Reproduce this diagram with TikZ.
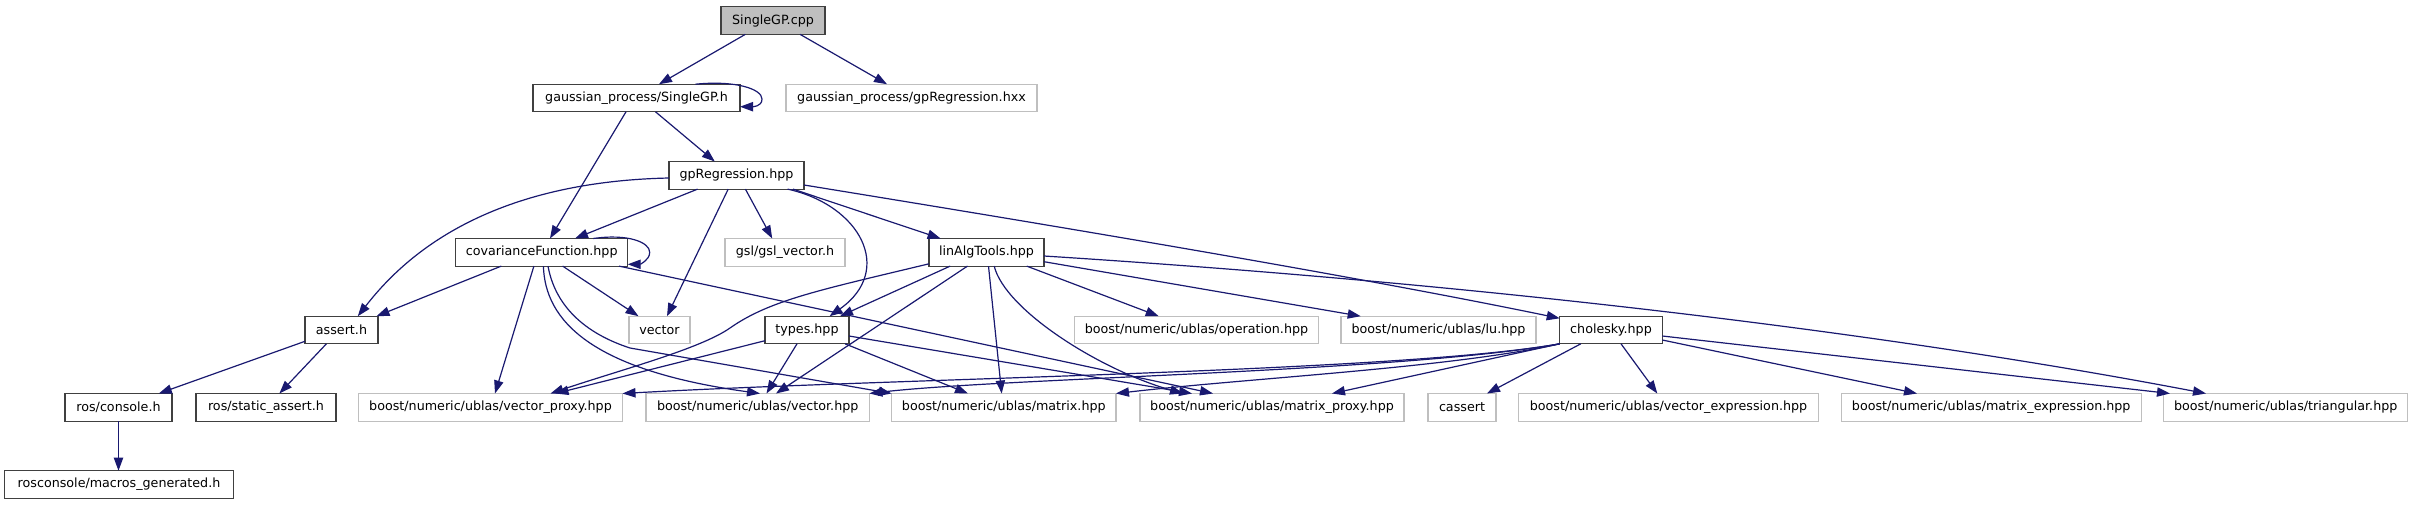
\documentclass[tikz,border=0pt]{standalone}
\usepackage{fontspec}
\setmainfont{DejaVu Sans}
\usetikzlibrary{arrows.meta}
\definecolor{edgeblue}{HTML}{191970}
\definecolor{docborder}{HTML}{404040}
\definecolor{extborder}{HTML}{BFBFBF}
\definecolor{rootfill}{HTML}{BFBFBF}
\begin{document}
\begin{tikzpicture}[x=1pt,y=-1pt,
  box/.style={rectangle, inner sep=0pt, outer sep=0pt, minimum height=27.6pt,
    font=\fontsize{12.7}{14}\selectfont, text=black},
  doc/.style={box, draw=docborder, line width=1.1pt},
  ext/.style={box, draw=extborder, line width=1.1pt},
  root/.style={doc, fill=rootfill},
  edge/.style={draw=edgeblue, line width=1.2pt,
    -{Triangle[length=13pt,width=9.3pt]}, edgeblue}]
\useasboundingbox (0,0) rectangle (2412,504);
\fill[white] (0,0) rectangle (2412,504);

% row 1
\node[root, minimum width=104pt] (cpp) at (773,20.5) {SingleGP.cpp};
% row 2
\node[doc, minimum width=207pt] (sgh) at (636.5,98) {gaussian\_process/SingleGP.h};
\node[ext, minimum width=251pt] (hxx) at (911.5,98) {gaussian\_process/gpRegression.hxx};
% row 3
\node[doc, minimum width=135pt] (gpr) at (736.5,175.3) {gpRegression.hpp};
% row 4
\node[doc, minimum width=172pt] (cov) at (541.7,252.3) {covarianceFunction.hpp};
\node[ext, minimum width=120pt] (gsl) at (785,252.3) {gsl/gsl\_vector.h};
\node[doc, minimum width=115pt] (lat) at (986.5,252.3) {linAlgTools.hpp};
% row 5
\node[doc, minimum width=73pt] (assert) at (341.5,330) {assert.h};
\node[ext, minimum width=61pt] (vector) at (659.5,330) {vector};
\node[doc, minimum width=84pt] (types) at (807,330) {types.hpp};
\node[ext, minimum width=243.7pt] (op) at (1196.5,330) {boost/numeric/ublas/operation.hpp};
\node[ext, minimum width=195pt] (lu) at (1438.5,330) {boost/numeric/ublas/lu.hpp};
\node[doc, minimum width=102.6pt] (chol) at (1611,330) {cholesky.hpp};
% row 6
\node[doc, minimum width=107pt] (console) at (118.5,407.3) {ros/console.h};
\node[doc, minimum width=140pt] (static) at (266,407.3) {ros/static\_assert.h};
\node[ext, minimum width=264pt] (vproxy) at (490.5,407.3) {boost/numeric/ublas/vector\_proxy.hpp};
\node[ext, minimum width=223.4pt] (vec) at (757.7,407.3) {boost/numeric/ublas/vector.hpp};
\node[ext, minimum width=224.3pt] (mat) at (1003.8,407.3) {boost/numeric/ublas/matrix.hpp};
\node[ext, minimum width=264pt] (mproxy) at (1272,407.3) {boost/numeric/ublas/matrix\_proxy.hpp};
\node[ext, minimum width=68pt] (cassert) at (1462,407.3) {cassert};
\node[ext, minimum width=299.5pt] (vexpr) at (1668.5,407.3) {boost/numeric/ublas/vector\_expression.hpp};
\node[ext, minimum width=299.7pt] (mexpr) at (1991.2,407.3) {boost/numeric/ublas/matrix\_expression.hpp};
\node[ext, minimum width=244pt] (tri) at (2285.7,407.3) {boost/numeric/ublas/triangular.hpp};
% row 7
\node[doc, minimum width=228.8pt] (macros) at (119,484.5) {rosconsole/macros\_generated.h};

% SingleGP.cpp
\draw[edge] ([xshift=-27.6pt]cpp.south) -- ([xshift=22.5pt]sgh.north);
\draw[edge] ([xshift=27pt]cpp.south) -- ([xshift=-24.5pt]hxx.north);
% SingleGP.h
\draw[edge] ([xshift=59pt]sgh.north) .. controls +(40,-4) and +(0,-10) .. ([xshift=22pt,yshift=-1pt]sgh.east) .. controls +(0,8) and +(12,0) .. ([yshift=-8.7pt]sgh.east);
\draw[edge] ([xshift=-10.5pt]sgh.south) -- ([xshift=8.3pt]cov.north);
\draw[edge] ([xshift=19pt]sgh.south) -- ([xshift=-21.7pt]gpr.north);
% gpRegression.hpp
\draw[edge] ([yshift=-2.7pt]gpr.west) .. controls (480,182) and (400,262) .. ([xshift=16.3pt]assert.north);
\draw[edge] ([xshift=-38.9pt]gpr.south) -- ([xshift=33.3pt]cov.north);
\draw[edge] ([xshift=-8.3pt]gpr.south) -- ([xshift=7.5pt]vector.north);
\draw[edge] ([xshift=8.9pt]gpr.south) -- ([xshift=-12.8pt]gsl.north);
\draw[edge] ([xshift=51pt]gpr.south) .. controls (860,205) and (895,270) .. ([xshift=22.6pt]types.north);
\draw[edge] ([xshift=56.5pt]gpr.south) -- ([xshift=-45.9pt]lat.north);
\draw[edge] ([yshift=-9.7pt]gpr.east) .. controls (1050,225) and (1350,275) .. ([yshift=11.7pt]chol.west);
% covarianceFunction.hpp
\draw[edge] ([xshift=51.6pt]cov.north) .. controls +(35,-5) and +(0,-10) .. ([xshift=22pt]cov.east) .. controls +(0,8) and +(12,0) .. ([yshift=-12pt]cov.east);
\draw[edge] ([xshift=-40.4pt]cov.south) -- ([xshift=35pt]assert.north);
\draw[edge] ([xshift=-7.8pt]cov.south) -- ([xshift=4.5pt]vproxy.north);
\draw[edge] ([xshift=20.9pt]cov.south) -- ([xshift=-21pt]vector.north);
\draw[edge] ([xshift=1.7pt]cov.south) .. controls (545,320) and (590,370) .. ([xshift=2.3pt]vec.north);
\draw[edge] ([xshift=6.3pt]cov.south) .. controls (556,310) and (590,335) .. (630,348) -- (mat.north west);
\draw[edge] ([xshift=-8.7pt]cov.south east) -- ([xshift=-59pt]mproxy.north);
% assert.h
\draw[edge] ([yshift=2.5pt]assert.south west) -- ([xshift=40.3pt]console.north);
\draw[edge] ([xshift=-15.1pt]assert.south) -- ([xshift=13.4pt]static.north);
\draw[edge] (console.south) -- (console.south |- macros.north);
% linAlgTools.hpp
\draw[edge] ([yshift=2.3pt]lat.south west) .. controls (820,290) and (770,300) .. (730,328) .. controls (700,349) and (620,370) .. ([xshift=60pt]vproxy.north);
\draw[edge] ([xshift=-36.3pt]lat.south) -- ([xshift=33pt]types.north);
\draw[edge] ([xshift=-19pt]lat.south) -- ([xshift=18.3pt]vec.north);
\draw[edge] ([xshift=2pt]lat.south) -- ([xshift=-2.1pt]mat.north);
\draw[edge] ([xshift=7.7pt]lat.south) .. controls (1005,310) and (1100,370) .. ([xshift=-89pt]mproxy.north);
\draw[edge] ([xshift=40.2pt]lat.south) -- ([xshift=-37.8pt]op.north);
\draw[edge] ([yshift=-9.4pt]lat.east) -- ([xshift=-77.8pt]lu.north);
\draw[edge] ([yshift=-3.7pt]lat.east) .. controls (1500,285) and (1900,335) .. ([xshift=-79.7pt]tri.north);
% types.hpp
\draw[edge] ([yshift=-10.7pt]types.west) -- ([xshift=65pt]vproxy.north);
\draw[edge] ([xshift=-10pt]types.south) -- ([xshift=8.8pt]vec.north);
\draw[edge] ([xshift=38pt]types.south) -- ([xshift=-35.8pt]mat.north);
\draw[edge] ([yshift=-6pt]types.east) -- ([xshift=-80pt]mproxy.north);
% cholesky.hpp
\draw[edge] (chol.south west) .. controls (1400,372) and (900,378) .. (vproxy.north east);
\draw[edge] (chol.south west) .. controls (1400,372) and (1000,378) .. (vec.north east);
\draw[edge] (chol.south west) .. controls (1450,368) and (1250,378) .. (mat.north east);
\draw[edge] (chol.south west) -- ([xshift=60pt]mproxy.north);
\draw[edge] ([xshift=-30.2pt]chol.south) -- ([xshift=25pt]cassert.north);
\draw[edge] ([xshift=10pt]chol.south) -- ([xshift=-11.2pt]vexpr.north);
\draw[edge] ([yshift=-10pt]chol.east) -- ([xshift=-74.2pt]mexpr.north);
\draw[edge] ([yshift=-6pt]chol.east) -- ([xshift=-115.7pt]tri.north);
\end{tikzpicture}
\end{document}
